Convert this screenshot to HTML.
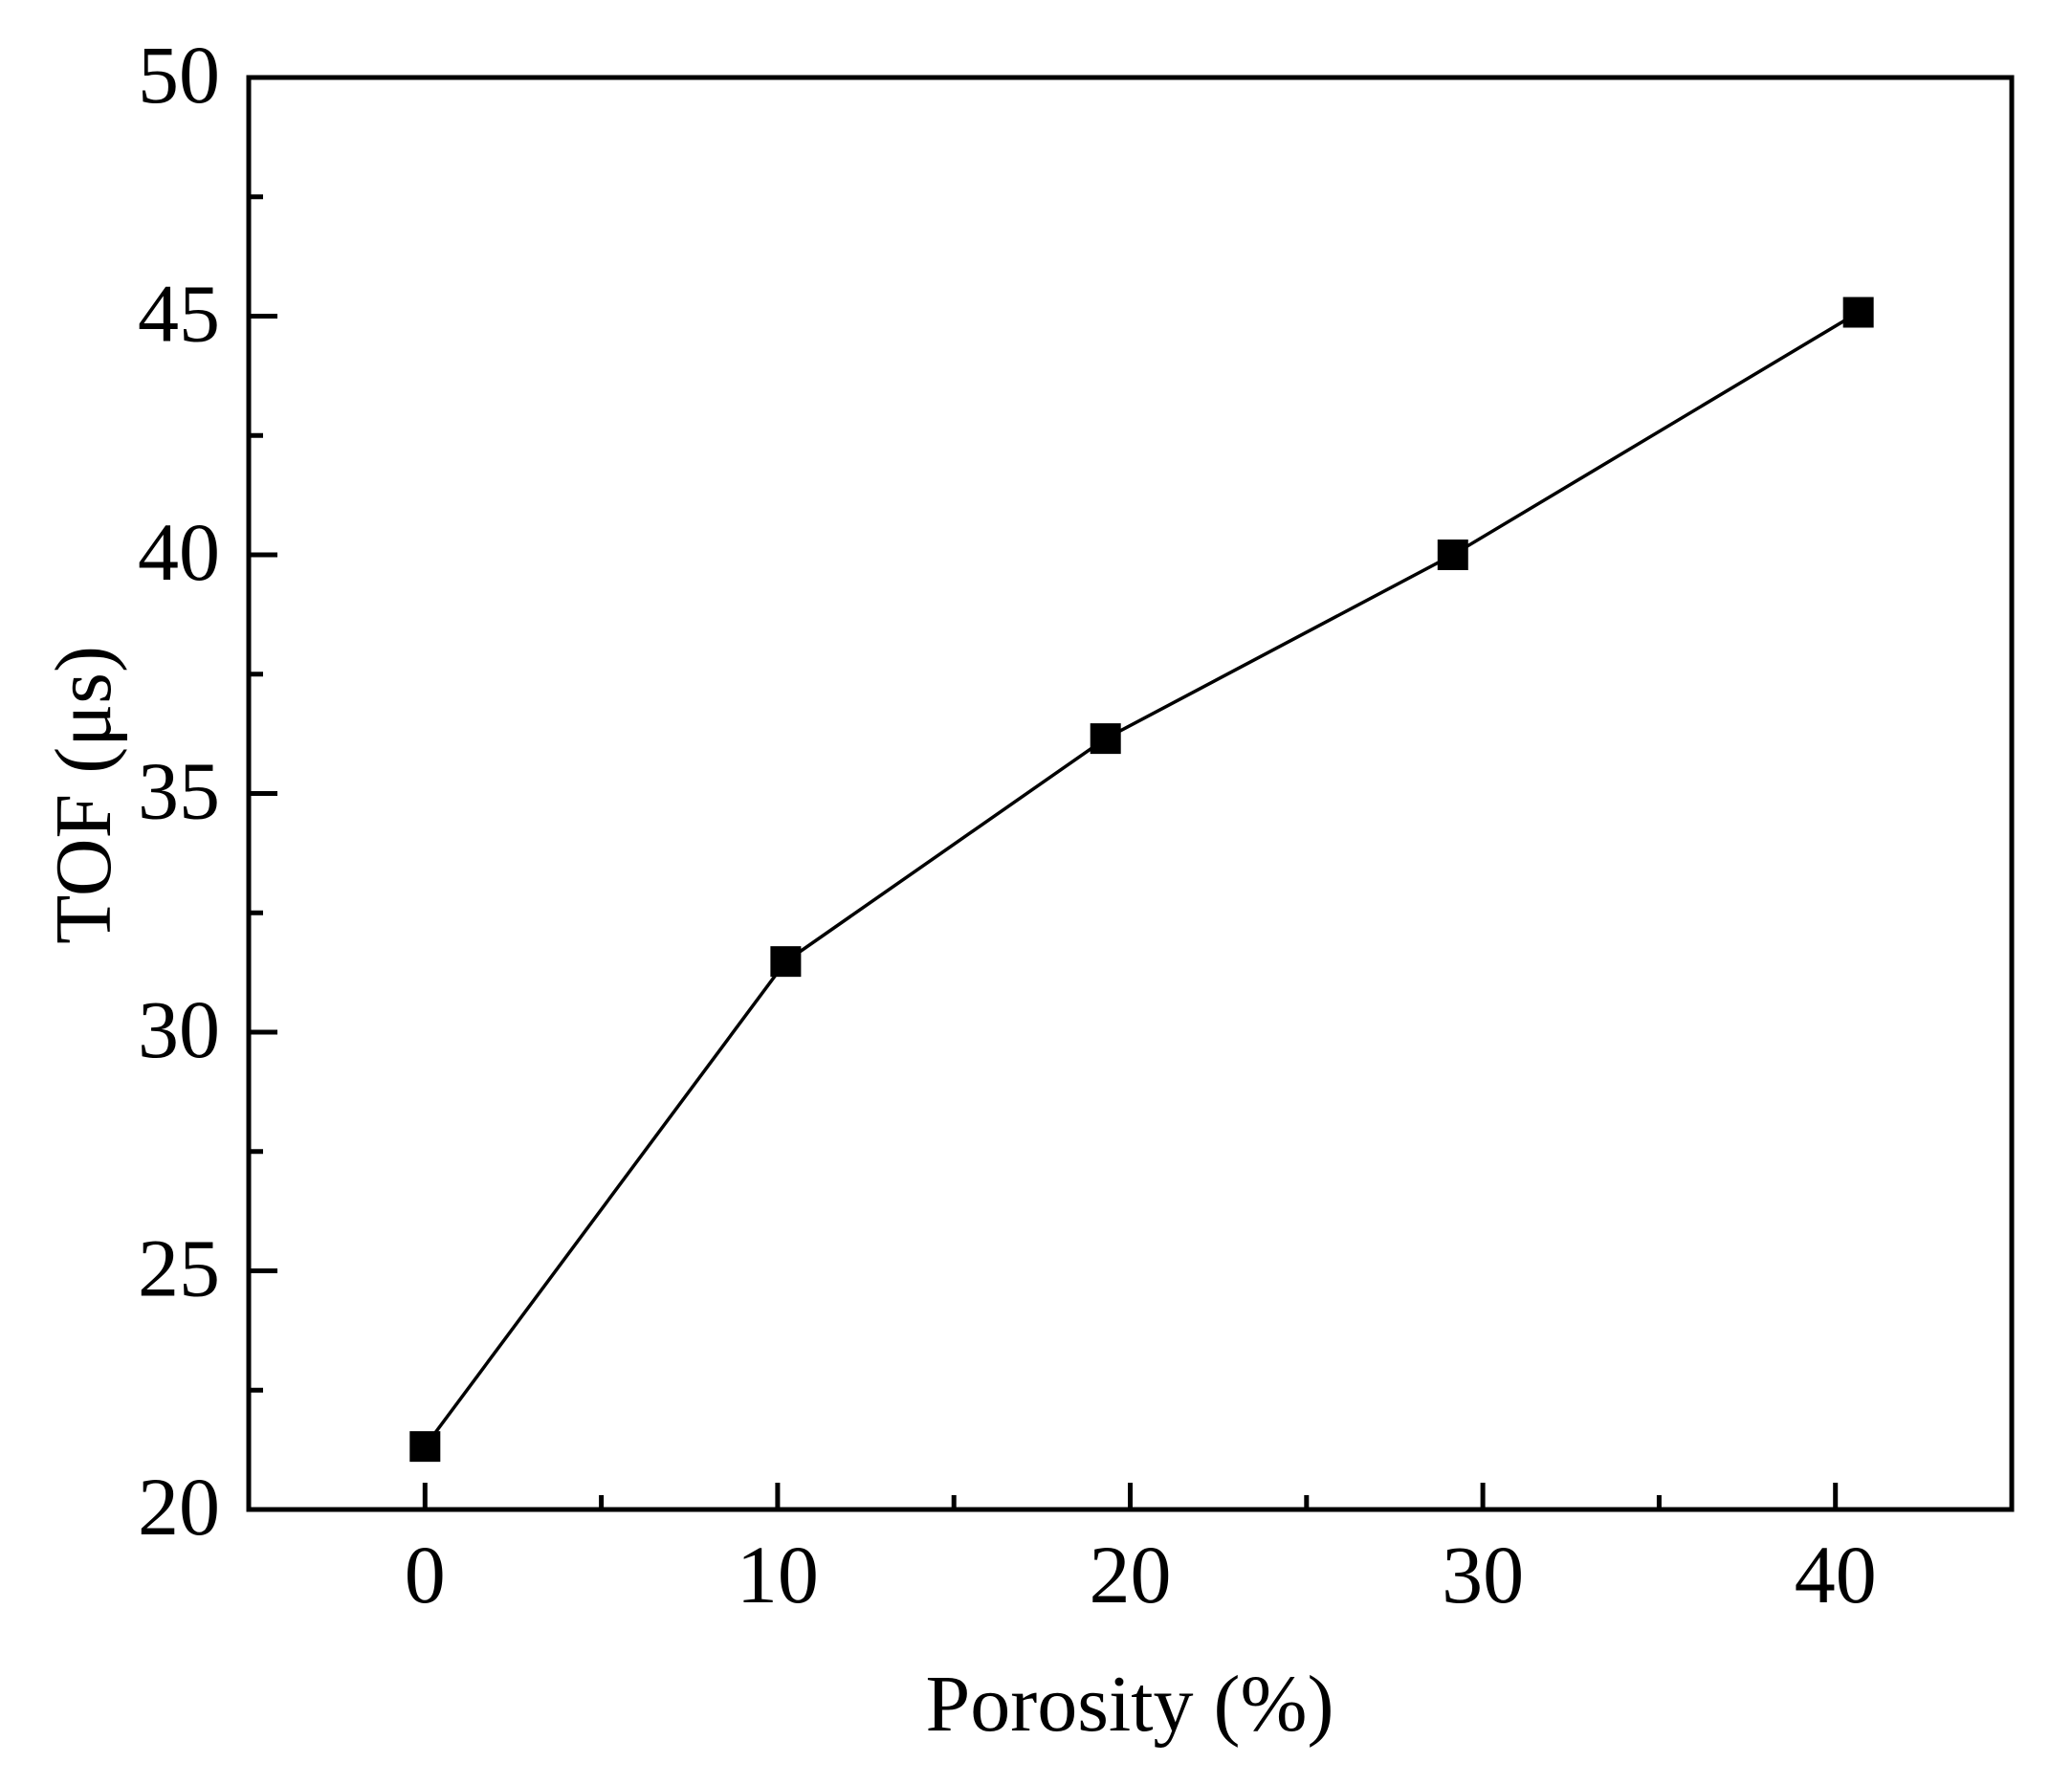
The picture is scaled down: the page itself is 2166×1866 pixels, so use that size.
<!DOCTYPE html>
<html><head><meta charset="utf-8"><style>
html,body{margin:0;padding:0;background:#fff;}
svg{display:block;}
text{font-family:"Liberation Serif",serif;fill:#000;}
</style></head><body>
<svg id="chart" width="2166" height="1866" viewBox="0 0 2166 1866">
<g id="axes"></g>
<g id="series"></g>
<text x="1181" y="1809" font-size="84" text-anchor="middle">Porosity (%)</text>
<text transform="translate(115,831) rotate(-90)" font-size="84" text-anchor="middle">TOF (μs)</text>
</svg>
<script>
const porosity = [0, 10.23, 19.3, 29.15, 40.65];
const tof = [21.32, 31.48, 36.15, 40.0, 45.08];
const xTicks = [0, 10, 20, 30, 40];
const xMinor = [5, 15, 25, 35];
const yTicks = [20, 25, 30, 35, 40, 45, 50];
const yMinor = [22.5, 27.5, 32.5, 37.5, 42.5, 47.5];

const L=260,R=2103,T=81,B=1578,xmin=-5,xmax=45,ymin=20,ymax=50;
const sx=v=>L+(v-xmin)/(xmax-xmin)*(R-L);
const sy=v=>B-(v-ymin)/(ymax-ymin)*(B-T);
const NS="http://www.w3.org/2000/svg";
const axes=document.getElementById('axes'), series=document.getElementById('series');
function mk(tag,attrs,parent){const e=document.createElementNS(NS,tag);for(const k in attrs)e.setAttribute(k,attrs[k]);parent.appendChild(e);return e;}

const frame=mk('rect',{x:L,y:T,width:R-L,height:B-T,fill:'none',stroke:'#000','stroke-width':5},axes);



xTicks.forEach(v=>{
  const t=mk('line',{x1:sx(v),x2:sx(v),y1:B,y2:B-28,stroke:'#000','stroke-width':5},axes);
  
  
  const lb=mk('text',{x:sx(v),y:1675,'font-size':86,'text-anchor':'middle'},axes);
  lb.textContent=v;
  
  
});
xMinor.forEach(v=>{
  const t=mk('line',{x1:sx(v),x2:sx(v),y1:B,y2:B-15,stroke:'#000','stroke-width':5},axes);
  
  
});
yTicks.forEach(v=>{
  const t=mk('line',{x1:L,x2:L+30,y1:sy(v),y2:sy(v),stroke:'#000','stroke-width':5},axes);
  
  
  const lb=mk('text',{x:230,y:sy(v)+26,'font-size':86,'text-anchor':'end'},axes);
  lb.textContent=v;
  
  
});
yMinor.forEach(v=>{
  const t=mk('line',{x1:L,x2:L+15,y1:sy(v),y2:sy(v),stroke:'#000','stroke-width':5},axes);
  
  
});

const pts=porosity.map((p,i)=>sx(p)+','+sy(tof[i])).join(' ');
const line=mk('polyline',{points:pts,fill:'none',stroke:'#000','stroke-width':3.5},series);


porosity.forEach((p,i)=>{
  const m=mk('rect',{x:sx(p)-16,y:sy(tof[i])-16,width:32,height:32,fill:'#000'},series);
  
  
});
</script>
</body></html>
